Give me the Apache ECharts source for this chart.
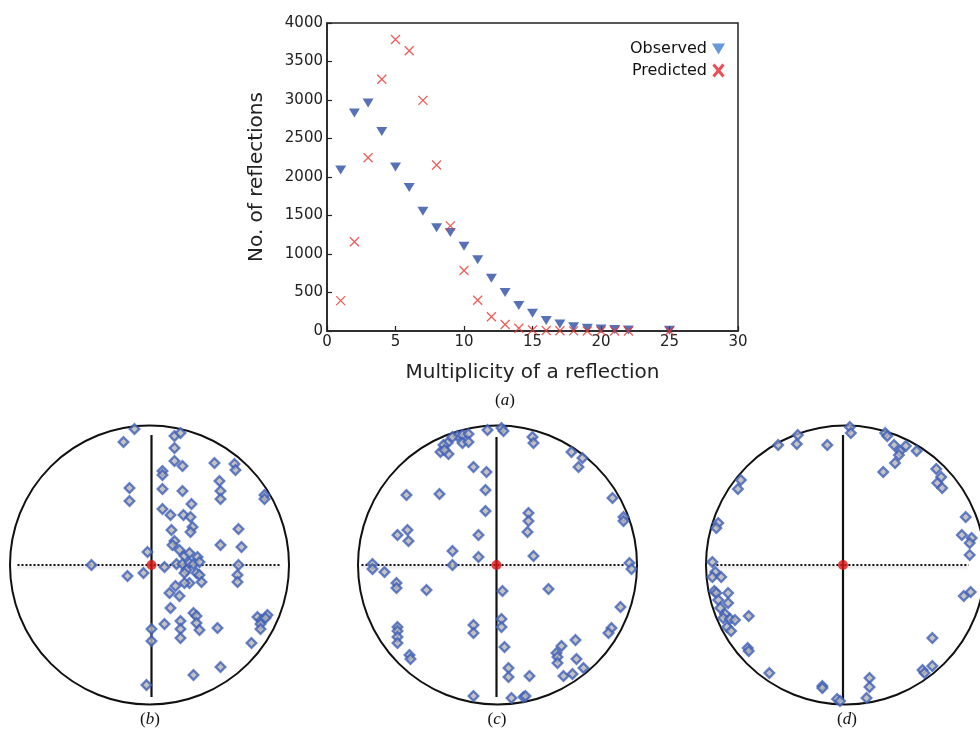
<!DOCTYPE html>
<html>
<head>
<meta charset="utf-8">
<script src="https://cdn.jsdelivr.net/npm/echarts@6/dist/echarts.min.js"></script>
<style>html,body{margin:0;padding:0;background:#fff}#main{width:980px;height:736px}</style>
</head>
<body>
<div id="main"></div>
<script>
// ---- Panel (a) data ----
var multiplicity = [1,2,3,4,5,6,7,8,9,10,11,12,13,14,15,16,17,18,19,20,21,22,25];
var observed = [2090,2830,2960,2590,2130,1865,1555,1340,1280,1100,925,685,500,330,230,135,90,55,35,25,18,13,10];
var predicted = [395,1160,2250,3270,3785,3640,2995,2155,1365,785,400,185,85,35,13,6,3,2,1,1,0,0,0];
var xTicks = {min:0, max:30, interval:5};
var yTicks = {min:0, max:4000, interval:500};

// ---- Panels (b), (c), (d): pole positions (offsets from circle centre, radius 139.5) ----
var poleB = [[-15,136],[-26,123],[25,129],[31,132],[25,117],[25,104],[33,99],[13,94],[13,90],[65,102],[85,101],[86,95],[70,84],[71,74],[71,66],[115,70],[115,66],[-20,77],[-20,64],[13,76],[33,74],[42,61],[13,56],[21,50],[34,50],[41,48],[22,35],[43,38],[41,33],[89,36],[92,18],[71,20],[25,24],[23,20],[-2,13],[30,15],[35,9],[40,12],[48,8],[27,1],[33,1],[40,2],[44,1],[50,3],[-58,0],[15,-2],[89,0],
  [-22,-11],[-6,-8],[37,-5],[35,-8],[47,-8],[50,-10],[52,-17],[40,-18],[35,-18],[26,-21],[20,-28],[30,-31],[21,-43],[44,-48],[47,-51],[15,-59],[31,-56],[47,-58],[31,-64],[50,-65],[31,-73],[2,-64],[2,-76],[68,-63],[88,-10],[88,-17],[108,-52],[112,-55],[118,-50],[116,-53],[111,-59],[111,-64],[102,-78],[71,-102],[44,-110],[-3,-120]];
var poleC = [[-10,135],[4,137],[6,134],[-40,129],[-35,130],[-29,131],[-35,122],[-29,123],[-50,122],[-54,120],[-57,113],[-49,111],[-53,115],[-45,128],[35,128],[36,122],[74,113],[85,107],[81,98],[-24,98],[-11,93],[-12,75],[-91,70],[-58,71],[-12,54],[115,67],[126,48],[126,44],[31,52],[31,44],[30,33],[-100,30],[-90,35],[-89,24],[-19,30],[-45,14],[-19,8],[36,9],[-45,0],[-125,1],[132,2],
  [-125,-4],[-113,-7],[-101,-18],[-101,-23],[-71,-25],[5,-26],[51,-24],[134,-4],[123,-42],[114,-63],[111,-68],[-100,-62],[-100,-66],[-100,-72],[-100,-78],[-24,-60],[-24,-68],[4,-54],[4,-62],[7,-82],[-88,-90],[-87,-94],[11,-103],[11,-112],[32,-111],[64,-81],[78,-75],[59,-88],[60,-92],[60,-98],[79,-94],[86,-103],[66,-111],[75,-109],[-24,-131],[14,-133],[26,-132],[28,-131]];
var poleD = [[7,138],[8,132],[-46,130],[-47,121],[-66,120],[-16,120],[43,132],[45,129],[52,120],[64,119],[58,114],[57,110],[75,114],[53,102],[41,93],[95,96],[100,88],[96,82],[101,77],[-104,85],[-107,76],[-127,42],[-129,37],[125,48],[121,30],[131,27],[129,22],[129,10],[-133,3],
  [-130,-7],[-133,-12],[-124,-12],[-131,-26],[-129,-28],[-117,-28],[-127,-35],[-117,-38],[-125,-43],[-120,-49],[-122,-53],[-115,-54],[-110,-55],[-118,-62],[-114,-66],[-96,-51],[-97,-83],[-96,-86],[-75,-108],[-21,-121],[-21,-123],[-6,-134],[-3,-136],[27,-113],[27,-122],[24,-133],[91,-73],[81,-105],[83,-108],[91,-101],[123,-31],[130,-27]];
// cross lines: [centreX, vTop, vBottom, hLeft, hRight]
var crossB = [2, 130, -132, -132, 130];
var crossC = [-1, 128, -132, -136, 126];
var crossD = [0, 130, -135, -133, 128];
var panelLabels = ['a','b','c','d'];

// ---- layout ----
var R = 139.5;
var centres = [[149.5,565],[497.5,565],[845.5,565]];
var poles = [poleB, poleC, poleD];
var crosses = [crossB, crossC, crossD];

var chart = echarts.init(document.getElementById('main'));
var FONT = 'DejaVu Sans';
var plain = function(v){ return String(v); };

var grids = [{left:327, top:23, width:411, height:308, show:true, borderColor:'#222', borderWidth:1.5, backgroundColor:'transparent'}];
var xAxes = [{
  gridIndex:0, type:'value', min:xTicks.min, max:xTicks.max, interval:xTicks.interval,
  axisLine:{lineStyle:{color:'#222', width:1.5}},
  axisTick:{inside:true, length:5, lineStyle:{color:'#222', width:1.2}},
  axisLabel:{fontFamily:FONT, fontSize:15, color:'#222', margin:4, formatter:plain},
  splitLine:{show:false},
  name:'Multiplicity of a reflection', nameLocation:'middle', nameGap:32,
  nameTextStyle:{fontFamily:FONT, fontSize:20, color:'#222'}
}];
var yAxes = [{
  gridIndex:0, type:'value', min:yTicks.min, max:yTicks.max, interval:yTicks.interval,
  axisLine:{lineStyle:{color:'#222', width:1.5}},
  axisTick:{inside:true, length:5, lineStyle:{color:'#222', width:1.2}},
  axisLabel:{fontFamily:FONT, fontSize:15, color:'#222', margin:4, formatter:plain},
  splitLine:{show:false},
  name:'No. of reflections', nameLocation:'middle', nameGap:60,
  nameTextStyle:{fontFamily:FONT, fontSize:20, color:'#222'}
}];
var polars = [], angleAxes = [], radiusAxes = [];
var series = [
  {name:'Observed', type:'scatter', xAxisIndex:0, yAxisIndex:0,
   data: multiplicity.map(function(m,i){return [m, observed[i]];}),
   symbol:'triangle', symbolRotate:180, symbolSize:[11,9],
   itemStyle:{color:'#2d4ea5'}, z:3},
  {name:'Predicted', type:'scatter', xAxisIndex:0, yAxisIndex:0,
   data: multiplicity.map(function(m,i){return [m, predicted[i]];}),
   symbol:'path://M0,0L10,10M10,0L0,10', symbolSize:9,
   itemStyle:{color:'none', borderColor:'#e8362f', borderWidth:1.3}, z:4}
];

for (var p = 0; p < 3; p++) {
  var c = centres[p], gi = p + 1, cr = crosses[p];
  grids.push({left:c[0]-R, top:c[1]-R, width:2*R, height:2*R});
  xAxes.push({gridIndex:gi, type:'value', min:-R, max:R, show:false, splitLine:{show:false}});
  yAxes.push({gridIndex:gi, type:'value', min:-R, max:R, show:false, splitLine:{show:false}});
  polars.push({center:[c[0], c[1]], radius:R});
  angleAxes.push({polarIndex:p, type:'value', min:0, max:360, axisLine:{lineStyle:{color:'#111', width:2}},
    axisTick:{show:false}, axisLabel:{show:false}, splitLine:{show:false}});
  radiusAxes.push({polarIndex:p, type:'value', min:0, max:1, show:false, splitLine:{show:false}});
  series.push({type:'scatter', coordinateSystem:'polar', polarIndex:p, data:[], silent:true});
  series.push({type:'line', xAxisIndex:gi, yAxisIndex:gi, data:[[cr[3],0],[cr[4],0]], symbol:'none',
    lineStyle:{color:'#111', width:2, type:'dotted', shadowColor:'rgba(0,0,0,0.25)', shadowBlur:3, shadowOffsetY:2}, z:1, silent:true});
  series.push({type:'line', xAxisIndex:gi, yAxisIndex:gi, data:[[cr[0],cr[1]],[cr[0],cr[2]]], symbol:'none',
    lineStyle:{color:'#111', width:2.2}, z:1, silent:true});
  series.push({type:'scatter', xAxisIndex:gi, yAxisIndex:gi, data:poles[p], symbol:'diamond', symbolSize:9.5,
    itemStyle:{color:'#b5b5b5', borderColor:'#3f5fb8', borderWidth:2.4}, z:2, silent:true});
  series.push({type:'scatter', xAxisIndex:gi, yAxisIndex:gi, data:[[cr[0],0]], symbol:'circle', symbolSize:10,
    itemStyle:{color:'#e01515'}, z:5, silent:true});
}

var labelPos = [[505,401],[150,720],[497,720],[847,720]];
var graphics = panelLabels.map(function(l,i){
  return {type:'text', x:labelPos[i][0], y:labelPos[i][1],
    style:{text:'{n|(}{i|' + l + '}{n|)}', textAlign:'center', textVerticalAlign:'middle',
      rich:{n:{fontFamily:'Liberation Serif', fontSize:17, fill:'#111'},
            i:{fontFamily:'Liberation Serif', fontSize:17, fontStyle:'italic', fill:'#111'}}}};
});

chart.setOption({
  animation:false,
  backgroundColor:'#fff',
  grid:grids, xAxis:xAxes, yAxis:yAxes,
  polar:polars, angleAxis:angleAxes, radiusAxis:radiusAxes,
  legend:{
    right:249, top:36, orient:'vertical', align:'right', itemGap:5, itemWidth:13, itemHeight:12,
    textStyle:{fontFamily:FONT, fontSize:16, color:'#111'},
    data:[
      {name:'Observed', icon:'path://M0,0L10,0L5,8.5Z', itemStyle:{color:'#3f7fcf'}},
      {name:'Predicted', icon:'path://M0,0L10,12M10,0L0,12', itemStyle:{color:'none', borderColor:'#e8202a', borderWidth:3}}
    ]
  },
  series:series,
  graphic:graphics
});
</script>
</body>
</html>
